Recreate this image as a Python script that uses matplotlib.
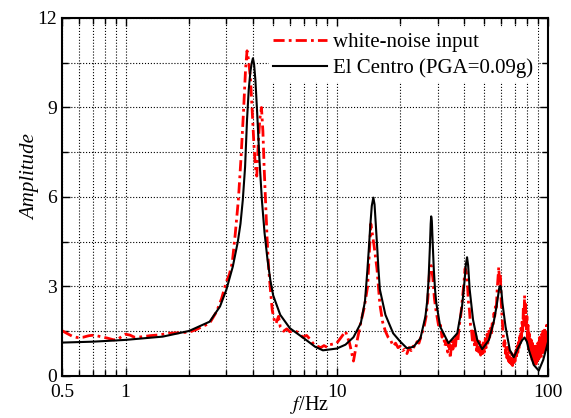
import matplotlib
matplotlib.use("Agg")
import matplotlib.pyplot as plt
import numpy as np
from matplotlib.ticker import MultipleLocator, LogLocator, FixedLocator, NullFormatter

plt.rcParams['font.family'] = ['Liberation Serif', 'DejaVu Serif']
plt.rcParams['mathtext.fontset'] = 'stix'

# El Centro (PGA=0.09g) response
elc_f = [0.5, 0.7, 1.0, 1.5, 2.0, 2.5, 2.8, 3.0, 3.22, 3.4, 3.5, 3.59, 3.68, 3.76,
         3.83, 3.9, 3.96, 4.01, 4.06, 4.12, 4.2, 4.3, 4.42, 4.55, 4.7, 4.85, 5.0,
         5.4, 6.0, 7.0, 7.9, 8.6, 10, 11, 12, 13, 13.6, 13.95, 14.2, 14.4, 14.65,
         14.9, 15.1, 15.3, 15.5, 15.75, 16.0, 17.0, 18.5, 20, 21.5, 23.1, 24.9,
         26.3, 26.8, 27.2, 27.6, 27.85, 28.0, 28.2, 28.45, 28.8, 29.2, 29.6, 30.9,
         33.8, 37.2, 39.2, 40.3, 40.9, 41.4, 41.9, 42.6, 44.2, 46.3, 48.8, 52.5,
         55.4, 57.0, 58.0, 58.8, 59.5, 60.2, 60.9, 63, 66, 68.9, 72.7, 75.5, 77.5,
         79.5, 81.2, 85.7, 90.5, 95, 100]
elc_a = [1.12, 1.15, 1.21, 1.32, 1.51, 1.82, 2.33, 2.89, 3.67, 4.5, 5.1, 5.9, 7.0,
         8.6, 9.6, 10.2, 10.5, 10.65, 10.45, 9.9, 8.8, 7.3, 5.9, 4.8, 3.9, 3.2, 2.7,
         2.05, 1.6, 1.26, 0.98, 0.86, 0.92, 1.05, 1.3, 1.77, 2.5, 3.5, 4.3, 5.0,
         5.7, 5.98, 5.75, 5.1, 4.45, 3.6, 2.9, 2.05, 1.43, 1.15, 0.93, 0.98, 1.26,
         2.0, 2.5, 3.2, 4.3, 5.1, 5.35, 5.2, 4.5, 3.6, 2.9, 2.45, 1.65, 1.1, 1.43,
         2.33, 3.2, 3.75, 3.98, 3.7, 2.9, 1.88, 1.2, 0.9, 1.2, 1.82, 2.3, 2.66,
         2.95, 3.02, 2.85, 2.44, 1.65, 0.87, 0.63, 0.98, 1.2, 1.29, 1.15, 0.87,
         0.37, 0.18, 0.54, 1.13]

# white-noise input response: low band (0.5-9.7 Hz)
wn_f_low = [0.5, 0.53, 0.56, 0.59, 0.63, 0.67, 0.71, 0.76, 0.82, 0.88, 0.92, 0.96,
            1.0, 1.05, 1.1, 1.18, 1.3, 1.45, 1.6, 1.8, 2.0, 2.15, 2.3, 2.5, 2.7,
            2.85, 3.0, 3.1, 3.2, 3.3, 3.42, 3.52, 3.62, 3.7, 3.76, 3.82, 3.9, 3.97,
            4.05, 4.12, 4.18, 4.25, 4.32, 4.4, 4.47, 4.53, 4.6, 4.68, 4.76, 4.85,
            4.95, 5.05, 5.15, 5.3, 5.4, 5.6, 5.8, 6.0, 6.3, 6.6, 6.9, 7.2, 7.5, 7.8,
            8.1, 8.4, 8.7, 9.0, 9.3, 9.7]
wn_a_low = [1.52, 1.42, 1.33, 1.29, 1.30, 1.35, 1.37, 1.32, 1.27, 1.21, 1.23, 1.33,
            1.40, 1.37, 1.30, 1.31, 1.35, 1.38, 1.43, 1.45, 1.47, 1.55, 1.65, 1.77,
            2.16, 2.6, 3.16, 3.4, 3.8, 4.7, 5.9, 7.3, 8.9, 10.3, 10.9, 10.6, 10.0,
            9.0, 7.8, 7.0, 6.7, 7.8, 8.6, 9.0, 8.2, 7.0, 5.9, 4.6, 3.6, 2.9, 2.2,
            1.9, 1.75, 2.0, 1.65, 1.5, 1.58, 1.48, 1.52, 1.45, 1.3, 1.36, 1.22,
            1.05, 1.0, 0.95, 1.02, 0.96, 1.05, 1.08]
# high band: samples every 0.5 Hz from 10 to 100 Hz
wn_a_high = [
    1.1, 1.3, 1.5, 1.1, 0.5, 1.2, 1.8, 2.3, 3.0, 5.1,      # 10.0-14.5
    4.4, 3.6, 2.4, 1.8, 1.5, 1.3, 1.2, 1.0, 1.1, 0.95,     # 15.0-19.5
    1.0, 0.85, 0.9, 0.75, 0.95, 0.85, 1.0, 0.95, 1.15, 1.1,  # 20.0-24.5
    1.3, 1.5, 1.7, 2.0, 2.6, 3.5, 3.7, 3.3, 2.6, 2.2,      # 25.0-29.5
    1.9, 1.6, 1.7, 1.3, 1.4, 1.0, 1.2, 0.8, 1.1, 0.6,      # 30.0-34.5
    1.2, 0.9, 1.3, 1.0, 1.45, 1.2, 1.7, 1.9, 2.3, 2.7,     # 35.0-39.5
    3.1, 3.6, 3.5, 3.2, 2.5, 2.2, 1.7, 1.5, 1.1, 1.5,      # 40.0-44.5
    0.95, 1.35, 0.85, 1.25, 0.8, 1.15, 0.7, 1.1, 0.75, 1.2,  # 45.0-49.5
    0.8, 1.25, 0.95, 1.4, 1.1, 1.5, 1.3, 1.6, 1.4, 1.8,    # 50.0-54.5
    1.7, 2.1, 2.0, 2.4, 2.3, 2.9, 3.3, 3.65, 3.1, 3.4,     # 55.0-59.5
    2.6, 2.1, 1.7, 1.3, 1.0, 1.25, 0.75, 1.05, 0.6, 0.95,  # 60.0-64.5
    0.5, 0.85, 0.45, 0.8, 0.4, 0.75, 0.35, 0.7, 0.45, 0.8,  # 65.0-69.5
    0.5, 0.9, 0.6, 1.0, 0.7, 1.2, 0.9, 1.4, 1.1, 1.6,      # 70.0-74.5
    1.3, 1.9, 1.5, 2.3, 1.7, 2.7, 1.9, 2.4, 1.5, 2.0,      # 75.0-79.5
    1.2, 1.7, 0.9, 1.5, 0.8, 1.3, 0.7, 1.2, 0.5, 1.1,      # 80.0-84.5
    0.45, 1.0, 0.4, 0.95, 0.5, 1.0, 0.4, 0.9, 0.5, 1.1,    # 85.0-89.5
    0.55, 1.2, 0.6, 1.3, 0.7, 1.2, 0.6, 1.4, 0.8, 1.5,     # 90.0-94.5
    0.7, 1.3, 0.9, 1.6, 0.8, 1.5, 0.9, 1.7, 0.8, 1.4,      # 95.0-99.5
    0.9]                                                   # 100.0
wn_f_high = np.arange(10.0, 100.25, 0.5)

wn_f = np.concatenate([wn_f_low, wn_f_high])
wn_a = np.concatenate([wn_a_low, wn_a_high])

fig = plt.figure(figsize=(5.71, 4.18), dpi=100)
ax = fig.add_axes([0.1086, 0.1005, 0.851, 0.8565])

ax.plot(wn_f, wn_a, color='red', lw=2.0, linestyle=(0, (4, 1.5, 1, 1.5)),
        label='white-noise input')
ax.plot(elc_f, elc_a, color='black', lw=1.5, label='El Centro (PGA=0.09g)')

ax.set_xscale('log')
ax.set_xlim(0.5, 100)
ax.set_ylim(0, 12)
ax.xaxis.set_major_locator(FixedLocator([0.5, 1, 10, 100]))
ax.set_xticklabels(['0.5', '1', '10', '100'])
ax.xaxis.set_minor_locator(LogLocator(base=10, subs=range(2, 10)))
ax.xaxis.set_minor_formatter(NullFormatter())
ax.yaxis.set_major_locator(MultipleLocator(3))
ax.yaxis.set_minor_locator(MultipleLocator(1.5))

ax.tick_params(which='both', direction='in', top=True, right=True, labelsize=14, width=1)
ax.tick_params(which='major', length=6)
ax.tick_params(which='minor', length=4)
ax.tick_params(axis='x', pad=6)
ax.grid(which='both', color='black', linestyle=':', lw=0.8)
for s in ax.spines.values():
    s.set_linewidth(1.5)

ax.set_xlabel(r'$f$/Hz', fontsize=14.5)
ax.xaxis.set_label_coords(0.51, -0.05)
ax.set_ylabel('Amplitude', fontsize=15, style='italic')
ax.yaxis.set_label_coords(-0.045, 0.555)

leg = ax.legend(loc='upper right', fontsize=15, handlelength=2.6, frameon=True,
                fancybox=False, edgecolor='none', facecolor='white', framealpha=1,
                borderaxespad=0.5, borderpad=0.2, labelspacing=0.3, handletextpad=0.3)
leg.set_zorder(5)

fig.savefig('out.png', dpi=100)
